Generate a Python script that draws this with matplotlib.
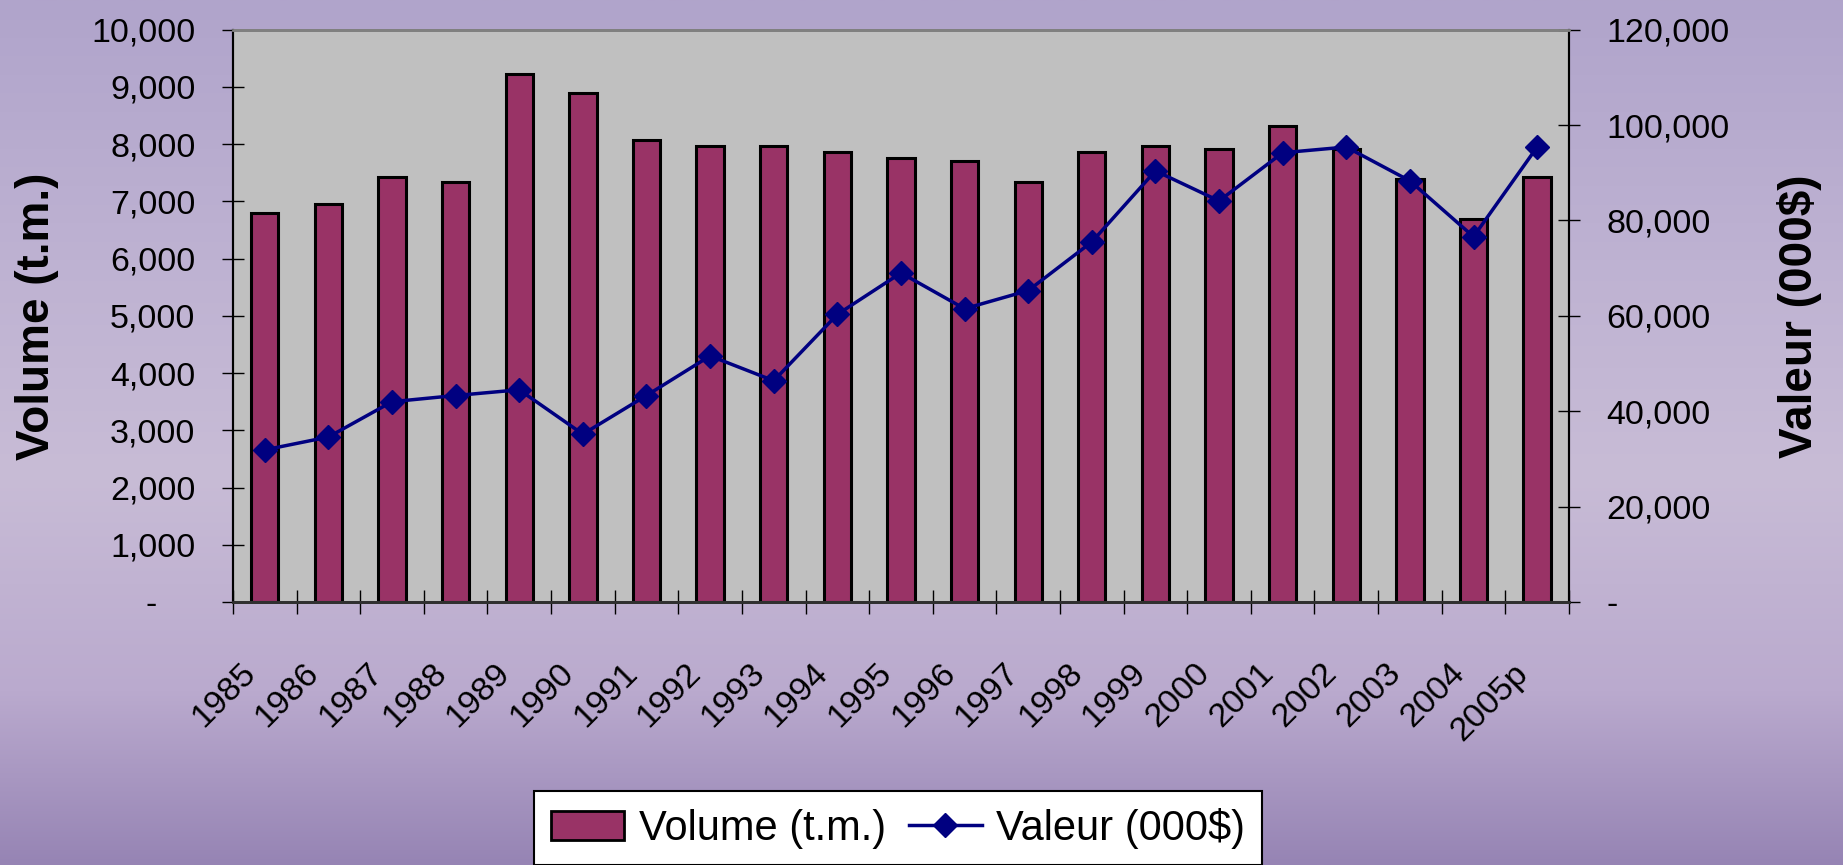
import numpy as np
import matplotlib
matplotlib.use("Agg")
import matplotlib.pyplot as plt
import matplotlib.transforms as mtransforms
from matplotlib.ticker import FuncFormatter
from matplotlib.lines import Line2D
from matplotlib.patches import Patch

# data
years = ['1985', '1986', '1987', '1988', '1989', '1990', '1991', '1992', '1993', '1994',
         '1995', '1996', '1997', '1998', '1999', '2000', '2001', '2002', '2003', '2004', '2005p']
volume = [6800, 6960, 7430, 7330, 9220, 8890, 8065, 7960, 7960, 7865,
          7750, 7700, 7330, 7860, 7960, 7910, 8320, 7910, 7390, 6700, 7430]
valeur = [31900, 34600, 42000, 43300, 44500, 35200, 43300, 51600, 46400, 60300,
          69000, 61500, 65300, 75500, 90400, 84100, 94200, 95400, 88300, 76600, 95400]

bar_color = '#993366'
line_color = '#000080'

plt.rcParams['font.family'] = ['Liberation Sans', 'DejaVu Sans']

fig = plt.figure(figsize=(18.43, 8.65), dpi=100)

# lavender background, a plain vertical gradient
stops_y = [0.0, 0.3, 0.55, 0.8, 1.0]
stops_c = np.array([[176, 164, 203], [190, 178, 210], [200, 188, 214],
                    [186, 170, 206], [150, 132, 180]]) / 255.0
yy = np.linspace(0, 1, 400)
grad = np.stack([np.interp(yy, stops_y, stops_c[:, k]) for k in range(3)], axis=1)
bg = fig.add_axes([0, 0, 1, 1], zorder=-5)
bg.imshow(grad[:, None, :], aspect='auto', extent=[0, 1, 1, 0])
bg.set_axis_off()

ax = fig.add_axes([0.1264, 0.304, 0.7249, 0.6617])
ax.set_facecolor('#c0c0c0')
x = np.arange(len(years))

ax.bar(x, volume, width=0.43, color=bar_color, edgecolor='black', linewidth=2.2, zorder=2)
ax.set_xlim(-0.5, len(years) - 0.5)
ax.set_ylim(0, 10000)
ax.set_yticks(np.arange(0, 10001, 1000))
ax.yaxis.set_major_formatter(FuncFormatter(lambda v, p: '-    ' if v == 0 else '{:,.0f}'.format(v)))
ax.tick_params(axis='y', direction='inout', length=16, width=1, pad=19, labelsize=24.5)

# category ticks at the boundaries, labels at the centres
ax.set_xticks(x)
ax.set_xticklabels(years)
ax.set_xticks(np.arange(-0.5, len(years), 1), minor=True)
ax.tick_params(axis='x', which='major', length=0, pad=48, labelsize=24.5)
ax.tick_params(axis='x', which='minor', direction='inout', length=17, width=1)
shift = mtransforms.ScaledTranslation(-14 / 100, 0, fig.dpi_scale_trans)
for lab in ax.get_xticklabels():
    lab.set_rotation(45)
    lab.set_ha('right')
    lab.set_va('center')
    lab.set_rotation_mode('anchor')
    lab.set_transform(lab.get_transform() + shift)

ax.set_ylabel('Volume (t.m.)', fontsize=33, fontweight='bold')
ax.yaxis.set_label_coords(-0.13, 0.5)

ax2 = ax.twinx()
ax2.plot(x, valeur, color=line_color, lw=2.5, marker='D', ms=12, zorder=3)
ax2.set_ylim(0, 120000)
ax2.set_yticks(np.arange(0, 120001, 20000))
ax2.yaxis.set_major_formatter(FuncFormatter(lambda v, p: '-' if v == 0 else '{:,.0f}'.format(v)))
ax2.tick_params(axis='y', direction='inout', length=16, width=1, pad=19, labelsize=24.5)
ax2.set_ylabel('Valeur (000$)', fontsize=33, fontweight='bold', rotation=90)
ax2.yaxis.set_label_coords(1.156, 0.5)

for a in (ax, ax2):
    a.spines['top'].set_color('#808080')
    a.spines['top'].set_linewidth(2)
    a.spines['left'].set_linewidth(1.5)
    a.spines['right'].set_linewidth(1.5)
    a.spines['bottom'].set_color('#303030')
    a.spines['bottom'].set_linewidth(2)

handles = [Patch(facecolor=bar_color, edgecolor='black', linewidth=2),
           Line2D([], [], color=line_color, lw=2.5, marker='D', ms=12)]
leg = fig.legend(handles, ['Volume (t.m.)', 'Valeur (000$)'], loc='upper center',
                 bbox_to_anchor=(0.4873, 0.0855), borderaxespad=0, ncol=2, fontsize=30,
                 frameon=True, fancybox=False, edgecolor='black', framealpha=1, borderpad=0.4,
                 handlelength=1.75, handleheight=0.7, handletextpad=0.35, columnspacing=0.55)
leg.get_frame().set_linewidth(1.5)

fig.savefig('out.png', dpi=100)
